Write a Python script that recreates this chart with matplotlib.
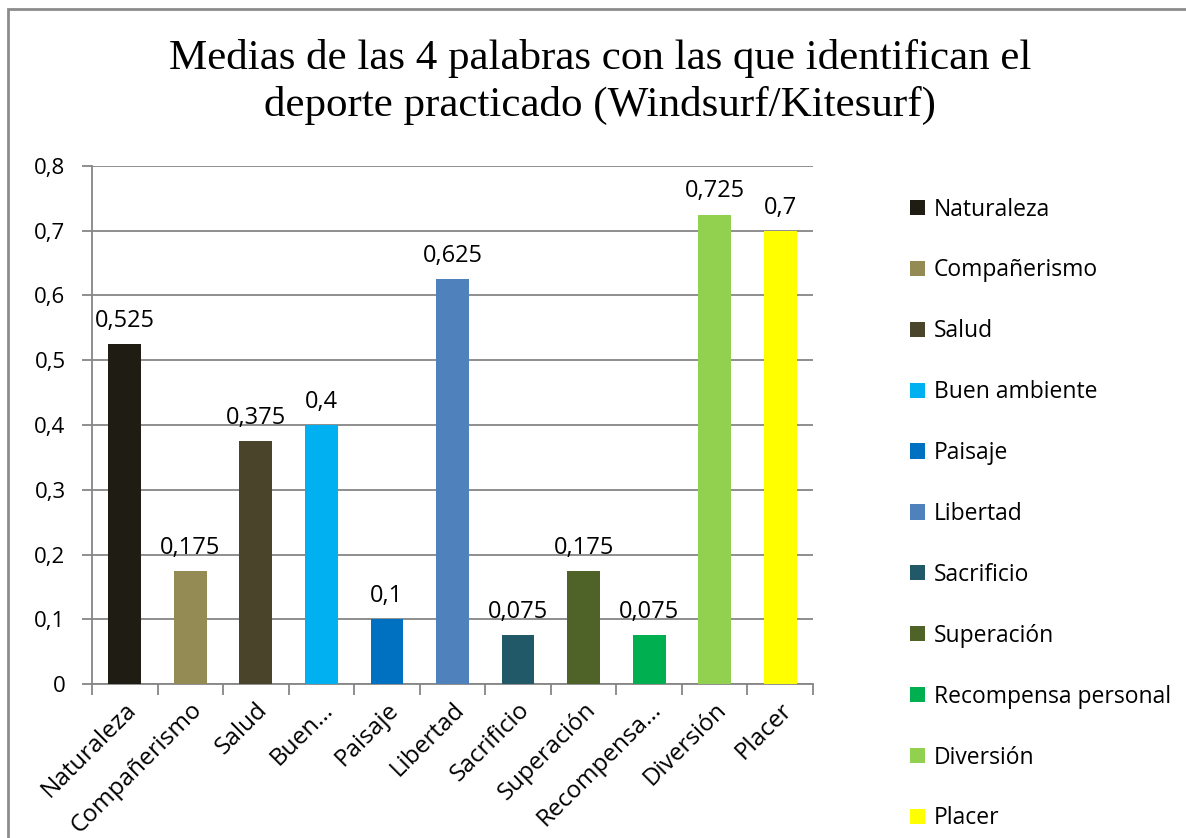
import numpy as np
import matplotlib.pyplot as plt
from matplotlib.patches import Rectangle, Patch

# ======================================
# Data
# ======================================

categories = ["Naturaleza", "Compañerismo", "Salud", "Buen ambiente", "Paisaje",
              "Libertad", "Sacrificio", "Superación", "Recompensa personal",
              "Diversión", "Placer"]
tick_labels = ["Naturaleza", "Compañerismo", "Salud", "Buen…", "Paisaje",
               "Libertad", "Sacrificio", "Superación", "Recompensa…",
               "Diversión", "Placer"]
values = [0.525, 0.175, 0.375, 0.4, 0.1, 0.625, 0.075, 0.175, 0.075, 0.725, 0.7]
colors = ["#1F1C13", "#948A54", "#4A452A", "#00B0F0", "#0070C0", "#4F81BD",
          "#215968", "#4F6228", "#00B050", "#92D050", "#FFFF00"]

title = "Medias de las 4 palabras con las que identifican el\ndeporte practicado (Windsurf/Kitesurf)"

# ======================================
# Plot
# ======================================

plt.rcParams['font.family'] = ['Open Sans', 'DejaVu Sans']
grid_col = "#868686"

fig = plt.figure(figsize=(11.86, 8.38), dpi=100)
ax = fig.add_axes([92/1186, 1 - 684/838, (813-92)/1186, (684-166)/838])

x = np.arange(len(categories))
ax.bar(x, values, width=0.5, color=colors, zorder=3)

# data labels with decimal comma
for xi, v in zip(x, values):
    ax.annotate(f"{v:g}".replace(".", ","), (xi, v), xytext=(0, 8),
                textcoords="offset points", ha="center", va="bottom",
                fontsize=17, color="black")

ax.set_ylim(0, 0.8)
ax.set_xlim(-0.5, len(categories) - 0.5)
yt = np.arange(0, 0.81, 0.1)
ax.set_yticks(yt)
ax.set_yticklabels([f"{t:.1f}".replace(".", ",") if t > 0 else "0" for t in yt],
                   fontsize=16)
ax.yaxis.grid(True, color=grid_col, linewidth=1.3, zorder=0)
ax.tick_params(axis="y", length=7, width=1.3, color=grid_col, pad=12)

ax.set_xticks(x)
ax.set_xticklabels(tick_labels, rotation=45, ha="right",
                   rotation_mode="anchor", fontsize=17.5)
ax.tick_params(axis="x", which="major", length=0, pad=10)
# tick marks between categories
ax.set_xticks(np.arange(-0.5, len(categories), 1), minor=True)
ax.tick_params(axis="x", which="minor", length=8, width=1.3, color=grid_col)

for s in ["top", "right"]:
    ax.spines[s].set_visible(False)
for s in ["left", "bottom"]:
    ax.spines[s].set_color(grid_col)
    ax.spines[s].set_linewidth(1.3)

fig.text(600/1186, 1 - 82/838, title, ha="center", va="center",
         fontsize=31, family="Liberation Serif", linespacing=1.25)

handles = [Patch(facecolor=c, label=n) for c, n in zip(colors, categories)]
fig.legend(handles=handles, loc="center left",
           bbox_to_anchor=(910/1186, 1 - 514/838),
           frameon=False, fontsize=16.5, labelspacing=1.61,
           handlelength=0.65, handleheight=0.65, handletextpad=0.4,
           borderpad=0, borderaxespad=0)

# outer chart border
fig.patches.append(Rectangle((8/1186, -0.1), 1.2, 1.1 - 9/838, transform=fig.transFigure,
                             fill=False, edgecolor="#8C8C8C", linewidth=2))

fig.savefig("out.png", dpi=100)
